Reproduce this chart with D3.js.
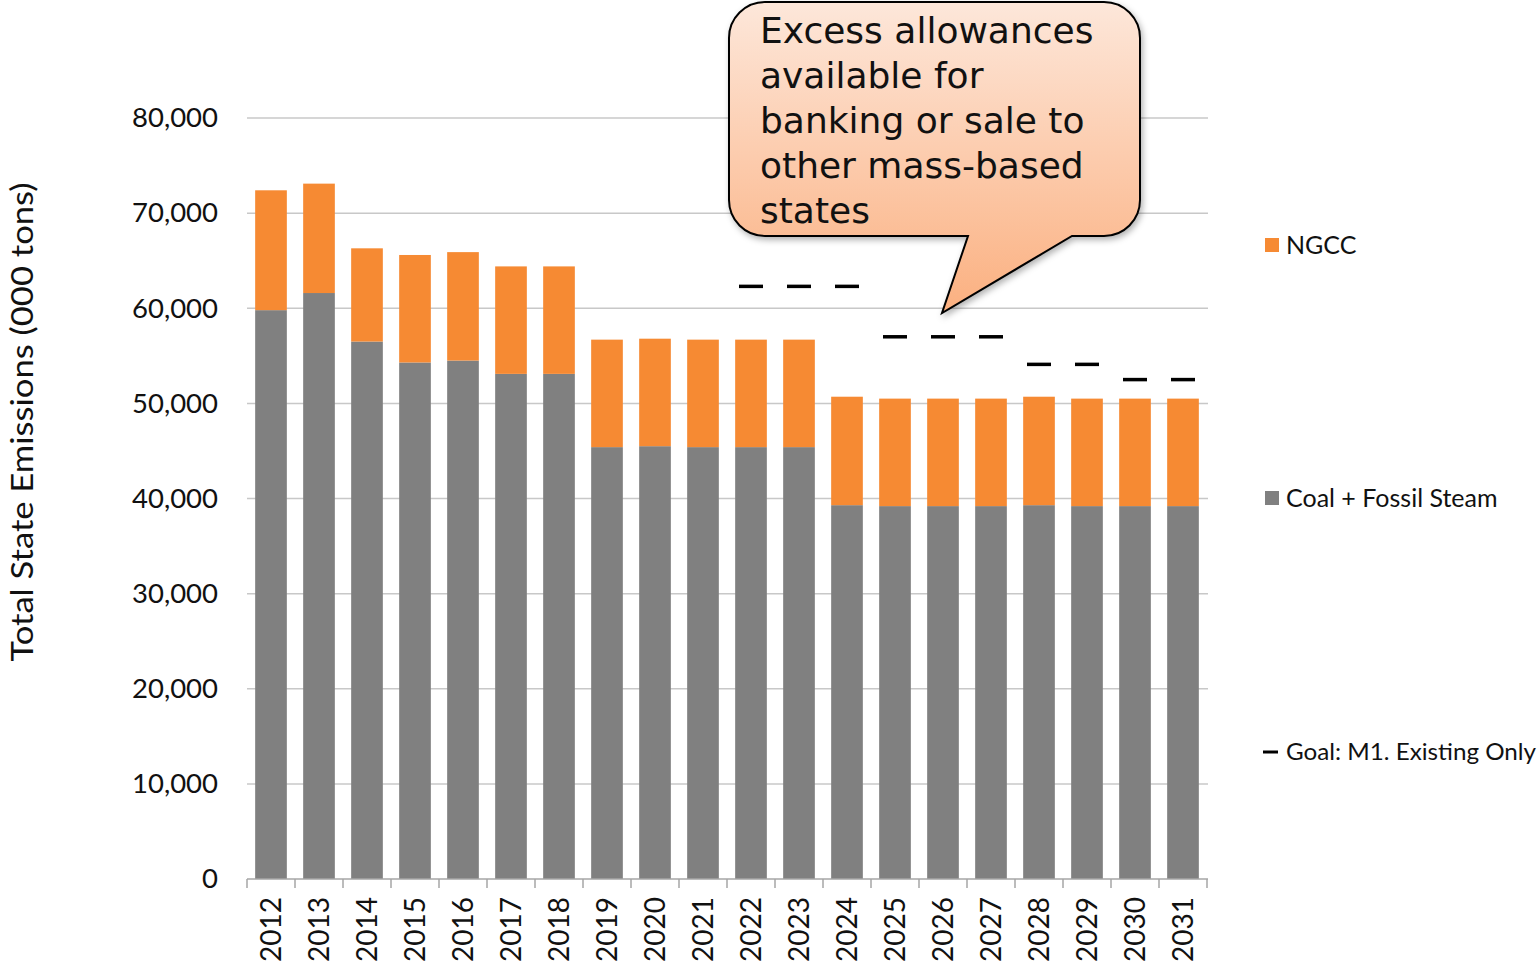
<!DOCTYPE html>
<html>
<head>
<meta charset="utf-8">
<script src="https://cdn.jsdelivr.net/npm/d3@7"></script>
<style>
  body { margin: 0; background: #fff; }
  text { font-family: Lato, "Open Sans", sans-serif; fill: #111; }
</style>
</head>
<body>
<svg id="chart" width="1539" height="966"></svg>
<script>
// data (000 tons)
var years = ["2012","2013","2014","2015","2016","2017","2018","2019","2020","2021",
             "2022","2023","2024","2025","2026","2027","2028","2029","2030","2031"];
var coal  = [59800, 61600, 56500, 54300, 54500, 53100, 53100, 45400, 45500, 45400,
             45400, 45400, 39300, 39200, 39200, 39200, 39300, 39200, 39200, 39200];
var ngcc  = [12600, 11500,  9800, 11300, 11400, 11300, 11300, 11300, 11300, 11300,
             11300, 11300, 11400, 11300, 11300, 11300, 11400, 11300, 11300, 11300];
var goal  = [null, null, null, null, null, null, null, null, null, null,
             62300, 62300, 62300, 57000, 57000, 57000, 54100, 54100, 52500, 52500];
var yTicks = [0, 10000, 20000, 30000, 40000, 50000, 60000, 70000, 80000];

var seriesNames = ["Coal + Fossil Steam", "NGCC"];
var colors = {"Coal + Fossil Steam": "#808080", "NGCC": "#f68a33"};

var svg = d3.select("#chart");

var x = d3.scaleBand().domain(years).range([247, 1207]).padding(0);
var y = d3.scaleLinear().domain([0, 80000]).range([879, 118]);
var barW = x.bandwidth() * 0.66;

var rows = years.map(function(d, i){
  return {year: d, "Coal + Fossil Steam": coal[i], "NGCC": ngcc[i], goal: goal[i]};
});
var stacked = d3.stack().keys(seriesNames)(rows);

// gridlines
svg.append("g").selectAll("line")
  .data(yTicks.filter(function(d){ return d > 0; }))
  .enter().append("line")
  .attr("x1", 247).attr("x2", 1208)
  .attr("y1", function(d){ return y(d); }).attr("y2", function(d){ return y(d); })
  .attr("stroke", "#c8c8c8").attr("stroke-width", 1.5);

// y axis labels
var yAxis = svg.append("g").attr("transform", "translate(221,0)")
  .call(d3.axisLeft(y).tickValues(yTicks).tickSize(0).tickFormat(d3.format(",")));
yAxis.select(".domain").remove();
yAxis.selectAll("text").style("font-size", "27.5px").style("font-family", "Lato, sans-serif").attr("fill", "#111");

// bars
svg.append("g").selectAll("g")
  .data(stacked).enter().append("g")
  .attr("fill", function(d){ return colors[d.key]; })
  .selectAll("rect")
  .data(function(d){ return d; })
  .enter().append("rect")
  .attr("x", function(d){ return x(d.data.year) + (x.bandwidth() - barW) / 2; })
  .attr("width", barW)
  .attr("y", function(d){ return y(d[1]); })
  .attr("height", function(d){ return y(d[0]) - y(d[1]); });

// goal dashes
svg.append("g").selectAll("line")
  .data(rows.filter(function(d){ return d.goal != null; }))
  .enter().append("line")
  .attr("x1", function(d){ return x(d.year) + x.bandwidth()/2 - 12; })
  .attr("x2", function(d){ return x(d.year) + x.bandwidth()/2 + 12; })
  .attr("y1", function(d){ return y(d.goal); })
  .attr("y2", function(d){ return y(d.goal); })
  .attr("stroke", "#000").attr("stroke-width", 3.5);

// x axis: line, ticks at band edges, rotated labels
var xg = svg.append("g");
xg.append("line").attr("x1", 247).attr("x2", 1208).attr("y1", 879).attr("y2", 879)
  .attr("stroke", "#a6a6a6").attr("stroke-width", 1.5);
var edges = years.map(function(d){ return x(d); }).concat([x.range()[1]]);
xg.selectAll("line.tick").data(edges).enter().append("line").attr("class", "tick")
  .attr("x1", function(d){ return d; }).attr("x2", function(d){ return d; })
  .attr("y1", 879).attr("y2", 888)
  .attr("stroke", "#a6a6a6").attr("stroke-width", 1.5);
xg.selectAll("text").data(years).enter().append("text")
  .attr("transform", function(d){ return "translate(" + (x(d) + x.bandwidth()/2) + ",897) rotate(-90)"; })
  .attr("text-anchor", "end").attr("dy", "0.36em")
  .style("font-size", "28px")
  .text(function(d){ return d; });

// y axis title
svg.append("text")
  .attr("transform", "translate(22,422) rotate(-90)")
  .attr("text-anchor", "middle").attr("dy", "0.36em")
  .attr("textLength", 479).attr("lengthAdjust", "spacingAndGlyphs")
  .style("font-size", "31px")
  .text("Total State Emissions (000 tons)");

// legend
var lg = svg.append("g");
lg.append("rect").attr("x", 1265).attr("y", 238).attr("width", 14).attr("height", 14).attr("fill", colors["NGCC"]);
lg.append("text").attr("x", 1286).attr("y", 254).style("font-size", "25px").text("NGCC");
lg.append("rect").attr("x", 1265).attr("y", 491).attr("width", 14).attr("height", 14).attr("fill", colors["Coal + Fossil Steam"]);
lg.append("text").attr("x", 1286).attr("y", 507).style("font-size", "25px").text("Coal + Fossil Steam");
lg.append("line").attr("x1", 1263).attr("x2", 1278).attr("y1", 752).attr("y2", 752).attr("stroke", "#000").attr("stroke-width", 3);
lg.append("text").attr("x", 1286).attr("y", 760).style("font-size", "24px")
  .attr("textLength", 250).attr("lengthAdjust", "spacingAndGlyphs")
  .text("Goal: M1. Existing Only");

// callout box
var defs = svg.append("defs");
var grad = defs.append("linearGradient").attr("id", "callGrad").attr("x1", 0).attr("y1", 0).attr("x2", 0).attr("y2", 1);
grad.append("stop").attr("offset", "0%").attr("stop-color", "#fde7da");
grad.append("stop").attr("offset", "100%").attr("stop-color", "#fbb080");
var shadow = defs.append("filter").attr("id", "shadow").attr("x", "-10%").attr("y", "-10%").attr("width", "130%").attr("height", "130%");
shadow.append("feDropShadow").attr("dx", 2).attr("dy", 3).attr("stdDeviation", 3).attr("flood-color", "#000").attr("flood-opacity", 0.3);

var bx0 = 729, bx1 = 1140, by0 = 2, by1 = 236, r = 36;
var p = d3.path();
p.moveTo(bx0 + r, by0);
p.lineTo(bx1 - r, by0);
p.arcTo(bx1, by0, bx1, by0 + r, r);
p.lineTo(bx1, by1 - r);
p.arcTo(bx1, by1, bx1 - r, by1, r);
p.lineTo(1072, by1);
p.lineTo(942, 313);
p.lineTo(968, by1);
p.lineTo(bx0 + r, by1);
p.arcTo(bx0, by1, bx0, by1 - r, r);
p.lineTo(bx0, by0 + r);
p.arcTo(bx0, by0, bx0 + r, by0, r);
p.closePath();
svg.append("path").attr("d", p.toString())
  .attr("fill", "url(#callGrad)").attr("stroke", "#000").attr("stroke-width", 2)
  .attr("filter", "url(#shadow)");

var calloutLines = ["Excess allowances", "available for", "banking or sale to", "other mass-based", "states"];
svg.append("g").selectAll("text").data(calloutLines).enter().append("text")
  .attr("x", 760).attr("y", function(d, i){ return 43 + i * 45; })
  .style("font-size", "36px").style("font-family", "'DejaVu Sans', sans-serif")
  .text(function(d){ return d; });
</script>
</body>
</html>
